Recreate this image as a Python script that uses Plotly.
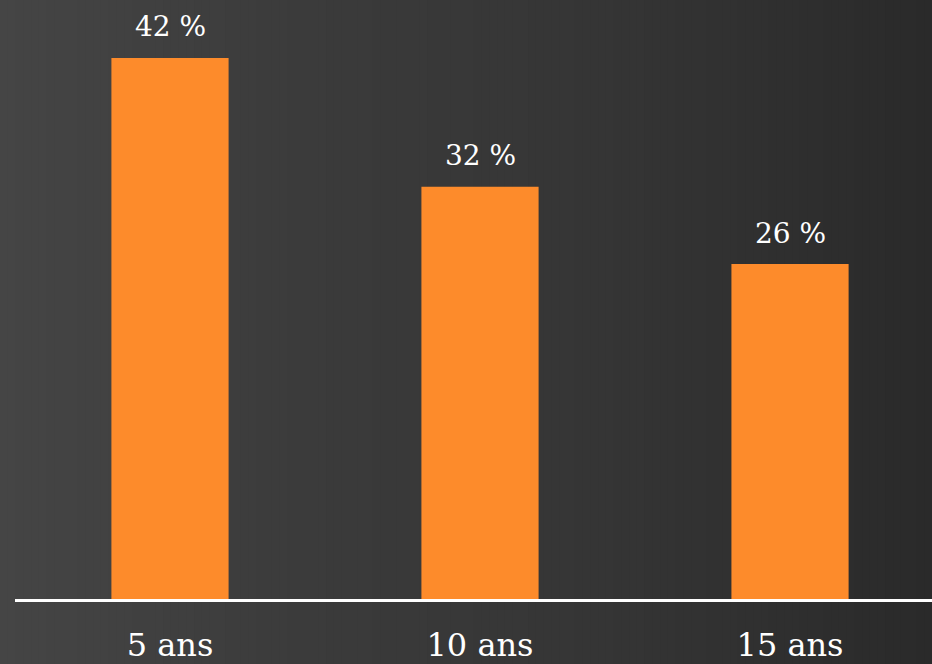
import plotly.graph_objects as go

categories = ["5 ans", "10 ans", "15 ans"]
values = [42, 32, 26]
labels = ["42 %", "32 %", "26 %"]

W, H = 932, 664
BAR_COLOR = "#FD8B2B"
FONT = "DejaVu Serif"

fig = go.Figure()
fig.add_trace(go.Bar(
    x=categories, y=values, width=0.378,
    marker=dict(color=BAR_COLOR, line=dict(width=0)),
    hoverinfo="skip",
))

for c, v, t in zip(categories, values, labels):
    fig.add_annotation(x=c, y=v, text=t, showarrow=False, yanchor="middle",
                       yshift=31, font=dict(family=FONT, size=28, color="white"))

# background gradient (left lighter -> right darker)
stops = [(0, 69), (300, 59), (600, 53), (932, 42)]
def gray(px):
    for (x0, g0), (x1, g1) in zip(stops[:-1], stops[1:]):
        if x0 <= px <= x1:
            return g0 + (g1 - g0) * (px - x0) / (x1 - x0)
    return stops[-1][1]

shapes = []
n = 120
for i in range(n):
    x0 = i / n
    x1 = (i + 1) / n + 0.002
    g = int(round(gray((i + 0.5) / n * W)))
    shapes.append(dict(type="rect", xref="paper", yref="paper", x0=x0, x1=x1, y0=0, y1=1,
                       fillcolor=f"rgb({g},{g},{g})", line=dict(width=0), layer="below"))

fig.update_layout(
    width=W, height=H,
    margin=dict(l=0, r=0, t=0, b=0),
    paper_bgcolor="#383838",
    plot_bgcolor="rgba(0,0,0,0)",
    shapes=shapes,
    showlegend=False,
    xaxis=dict(domain=[15 / W, 1], range=[-0.5, 2.458], showgrid=False, zeroline=False,
               showline=True, linecolor="white", linewidth=3, ticks="",
               ticklabelstandoff=16,
               tickfont=dict(family=FONT, size=32, color="white")),
    yaxis=dict(domain=[65 / H, 1], range=[0, 46.5], visible=False, showgrid=False, zeroline=False),
)

fig.write_html("out.html", config={"displayModeBar": False, "staticPlot": True},
               post_script="document.body.style.margin='0';document.body.style.overflow='hidden';")
